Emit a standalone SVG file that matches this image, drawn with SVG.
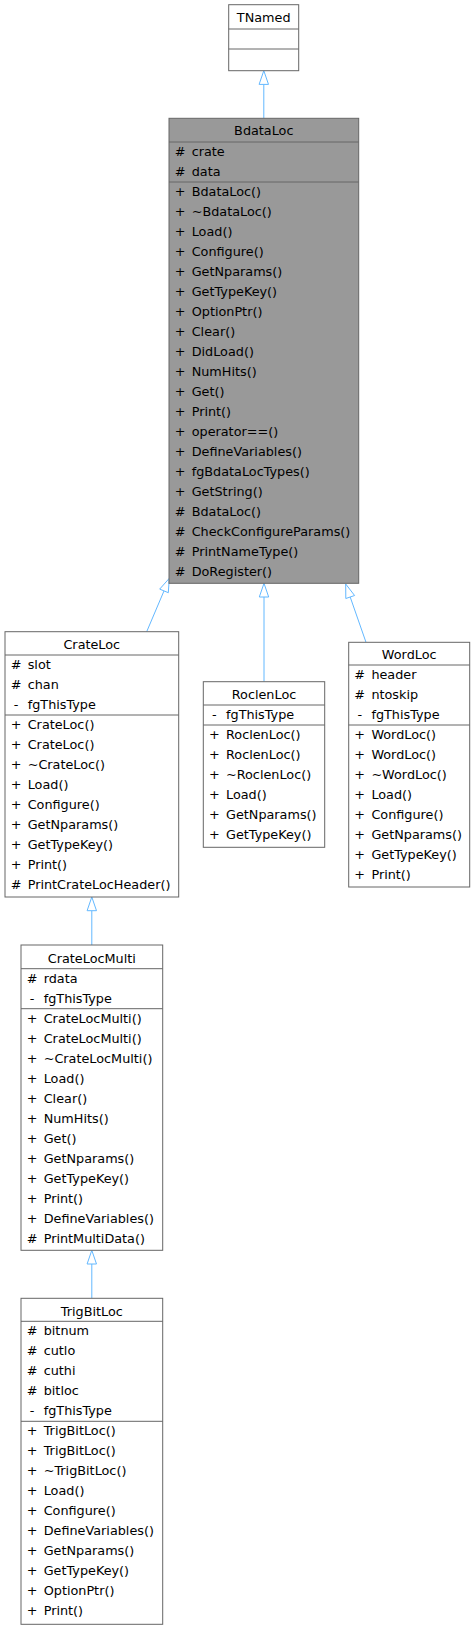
<svg xmlns="http://www.w3.org/2000/svg" width="475" height="1629" viewBox="0 0 475 1629">
<style>
.box{fill:#ffffff;stroke:#666666;stroke-width:1}
.main{fill:#999999;stroke:#666666;stroke-width:1}
.sep{stroke:#666666;stroke-width:1}
text{font-family:"DejaVu Sans","Liberation Sans",sans-serif;font-size:12.8px;fill:#000000}
.t{text-anchor:middle}
.s{text-anchor:middle}
.edge{stroke:#63B8FF;stroke-width:1;fill:none}
.head{fill:#ffffff;stroke:#63B8FF;stroke-width:1}
</style>
<rect width="475" height="1629" fill="#ffffff"/>
<g id="connectors">
<line class="edge" x1="263.8" y1="84.4" x2="263.8" y2="118.3"/>
<polygon class="head" points="263.8,70.7 259.1,84.4 268.5,84.4"/>
<line class="edge" x1="164" y1="590.9" x2="146.7" y2="631.7"/>
<polygon class="head" points="169.3,578.3 168.3,592.7 159.7,589.1"/>
<line class="edge" x1="264" y1="597" x2="264" y2="681.7"/>
<polygon class="head" points="264,583.3 259.3,597 268.7,597"/>
<line class="edge" x1="350.2" y1="597" x2="366" y2="642.3"/>
<polygon class="head" points="345.7,584 354.6,595.5 345.8,598.5"/>
<line class="edge" x1="91.8" y1="910.7" x2="91.8" y2="945"/>
<polygon class="head" points="91.8,897 87.1,910.7 96.5,910.7"/>
<line class="edge" x1="91.8" y1="1264" x2="91.8" y2="1298.3"/>
<polygon class="head" points="91.8,1250.3 87.1,1264 96.5,1264"/>
</g>
<g id="TNamed">
<rect class="box" x="228.7" y="4.7" width="70" height="66"/>
<line class="sep" x1="228.7" y1="29" x2="298.7" y2="29"/>
<line class="sep" x1="228.7" y1="49" x2="298.7" y2="49"/>
<text class="t" x="263.7" y="22">TNamed</text>
</g>
<g id="BdataLoc">
<rect class="main" x="169" y="118.3" width="189.7" height="465"/>
<line class="sep" x1="169" y1="142" x2="358.7" y2="142"/>
<line class="sep" x1="169" y1="182" x2="358.7" y2="182"/>
<text class="t" x="263.8" y="135.3">BdataLoc</text>
<text class="s" x="180" y="155.8">#</text><text x="191.7" y="155.8">crate</text>
<text class="s" x="180" y="175.8">#</text><text x="191.7" y="175.8">data</text>
<text class="s" x="180" y="195.8">+</text><text x="191.7" y="195.8">BdataLoc()</text>
<text class="s" x="180" y="215.8">+</text><text x="191.7" y="215.8">~BdataLoc()</text>
<text class="s" x="180" y="235.8">+</text><text x="191.7" y="235.8">Load()</text>
<text class="s" x="180" y="255.8">+</text><text x="191.7" y="255.8">Configure()</text>
<text class="s" x="180" y="275.8">+</text><text x="191.7" y="275.8">GetNparams()</text>
<text class="s" x="180" y="295.8">+</text><text x="191.7" y="295.8">GetTypeKey()</text>
<text class="s" x="180" y="315.8">+</text><text x="191.7" y="315.8">OptionPtr()</text>
<text class="s" x="180" y="335.8">+</text><text x="191.7" y="335.8">Clear()</text>
<text class="s" x="180" y="355.8">+</text><text x="191.7" y="355.8">DidLoad()</text>
<text class="s" x="180" y="375.8">+</text><text x="191.7" y="375.8">NumHits()</text>
<text class="s" x="180" y="395.8">+</text><text x="191.7" y="395.8">Get()</text>
<text class="s" x="180" y="415.8">+</text><text x="191.7" y="415.8">Print()</text>
<text class="s" x="180" y="435.8">+</text><text x="191.7" y="435.8">operator==()</text>
<text class="s" x="180" y="455.8">+</text><text x="191.7" y="455.8">DefineVariables()</text>
<text class="s" x="180" y="475.8">+</text><text x="191.7" y="475.8">fgBdataLocTypes()</text>
<text class="s" x="180" y="495.8">+</text><text x="191.7" y="495.8">GetString()</text>
<text class="s" x="180" y="515.8">#</text><text x="191.7" y="515.8">BdataLoc()</text>
<text class="s" x="180" y="535.8">#</text><text x="191.7" y="535.8">CheckConfigureParams()</text>
<text class="s" x="180" y="555.8">#</text><text x="191.7" y="555.8">PrintNameType()</text>
<text class="s" x="180" y="575.8">#</text><text x="191.7" y="575.8">DoRegister()</text>
</g>
<g id="CrateLoc">
<rect class="box" x="5" y="631.7" width="173.7" height="265.3"/>
<line class="sep" x1="5" y1="655" x2="178.7" y2="655"/>
<line class="sep" x1="5" y1="715" x2="178.7" y2="715"/>
<text class="t" x="91.8" y="649">CrateLoc</text>
<text class="s" x="16" y="668.8">#</text><text x="27.7" y="668.8">slot</text>
<text class="s" x="16" y="688.8">#</text><text x="27.7" y="688.8">chan</text>
<text class="s" x="16" y="708.8">-</text><text x="27.7" y="708.8">fgThisType</text>
<text class="s" x="16" y="728.8">+</text><text x="27.7" y="728.8">CrateLoc()</text>
<text class="s" x="16" y="748.8">+</text><text x="27.7" y="748.8">CrateLoc()</text>
<text class="s" x="16" y="768.8">+</text><text x="27.7" y="768.8">~CrateLoc()</text>
<text class="s" x="16" y="788.8">+</text><text x="27.7" y="788.8">Load()</text>
<text class="s" x="16" y="808.8">+</text><text x="27.7" y="808.8">Configure()</text>
<text class="s" x="16" y="828.8">+</text><text x="27.7" y="828.8">GetNparams()</text>
<text class="s" x="16" y="848.8">+</text><text x="27.7" y="848.8">GetTypeKey()</text>
<text class="s" x="16" y="868.8">+</text><text x="27.7" y="868.8">Print()</text>
<text class="s" x="16" y="888.8">#</text><text x="27.7" y="888.8">PrintCrateLocHeader()</text>
</g>
<g id="RoclenLoc">
<rect class="box" x="203.3" y="681.7" width="121.4" height="165.6"/>
<line class="sep" x1="203.3" y1="705" x2="324.7" y2="705"/>
<line class="sep" x1="203.3" y1="725" x2="324.7" y2="725"/>
<text class="t" x="264" y="698.7">RoclenLoc</text>
<text class="s" x="214.3" y="718.8">-</text><text x="226" y="718.8">fgThisType</text>
<text class="s" x="214.3" y="738.8">+</text><text x="226" y="738.8">RoclenLoc()</text>
<text class="s" x="214.3" y="758.8">+</text><text x="226" y="758.8">RoclenLoc()</text>
<text class="s" x="214.3" y="778.8">+</text><text x="226" y="778.8">~RoclenLoc()</text>
<text class="s" x="214.3" y="798.8">+</text><text x="226" y="798.8">Load()</text>
<text class="s" x="214.3" y="818.8">+</text><text x="226" y="818.8">GetNparams()</text>
<text class="s" x="214.3" y="838.8">+</text><text x="226" y="838.8">GetTypeKey()</text>
</g>
<g id="WordLoc">
<rect class="box" x="348.7" y="642.3" width="121" height="244.7"/>
<line class="sep" x1="348.7" y1="665" x2="469.7" y2="665"/>
<line class="sep" x1="348.7" y1="725" x2="469.7" y2="725"/>
<text class="t" x="409.2" y="659">WordLoc</text>
<text class="s" x="359.7" y="678.8">#</text><text x="371.4" y="678.8">header</text>
<text class="s" x="359.7" y="698.8">#</text><text x="371.4" y="698.8">ntoskip</text>
<text class="s" x="359.7" y="718.8">-</text><text x="371.4" y="718.8">fgThisType</text>
<text class="s" x="359.7" y="738.8">+</text><text x="371.4" y="738.8">WordLoc()</text>
<text class="s" x="359.7" y="758.8">+</text><text x="371.4" y="758.8">WordLoc()</text>
<text class="s" x="359.7" y="778.8">+</text><text x="371.4" y="778.8">~WordLoc()</text>
<text class="s" x="359.7" y="798.8">+</text><text x="371.4" y="798.8">Load()</text>
<text class="s" x="359.7" y="818.8">+</text><text x="371.4" y="818.8">Configure()</text>
<text class="s" x="359.7" y="838.8">+</text><text x="371.4" y="838.8">GetNparams()</text>
<text class="s" x="359.7" y="858.8">+</text><text x="371.4" y="858.8">GetTypeKey()</text>
<text class="s" x="359.7" y="878.8">+</text><text x="371.4" y="878.8">Print()</text>
</g>
<g id="CrateLocMulti">
<rect class="box" x="21" y="945" width="141.7" height="305.3"/>
<line class="sep" x1="21" y1="968.7" x2="162.7" y2="968.7"/>
<line class="sep" x1="21" y1="1008.7" x2="162.7" y2="1008.7"/>
<text class="t" x="91.8" y="962.6">CrateLocMulti</text>
<text class="s" x="32" y="982.5">#</text><text x="43.7" y="982.5">rdata</text>
<text class="s" x="32" y="1002.5">-</text><text x="43.7" y="1002.5">fgThisType</text>
<text class="s" x="32" y="1022.5">+</text><text x="43.7" y="1022.5">CrateLocMulti()</text>
<text class="s" x="32" y="1042.5">+</text><text x="43.7" y="1042.5">CrateLocMulti()</text>
<text class="s" x="32" y="1062.5">+</text><text x="43.7" y="1062.5">~CrateLocMulti()</text>
<text class="s" x="32" y="1082.5">+</text><text x="43.7" y="1082.5">Load()</text>
<text class="s" x="32" y="1102.5">+</text><text x="43.7" y="1102.5">Clear()</text>
<text class="s" x="32" y="1122.5">+</text><text x="43.7" y="1122.5">NumHits()</text>
<text class="s" x="32" y="1142.5">+</text><text x="43.7" y="1142.5">Get()</text>
<text class="s" x="32" y="1162.5">+</text><text x="43.7" y="1162.5">GetNparams()</text>
<text class="s" x="32" y="1182.5">+</text><text x="43.7" y="1182.5">GetTypeKey()</text>
<text class="s" x="32" y="1202.5">+</text><text x="43.7" y="1202.5">Print()</text>
<text class="s" x="32" y="1222.5">+</text><text x="43.7" y="1222.5">DefineVariables()</text>
<text class="s" x="32" y="1242.5">#</text><text x="43.7" y="1242.5">PrintMultiData()</text>
</g>
<g id="TrigBitLoc">
<rect class="box" x="21" y="1298.3" width="141.7" height="326"/>
<line class="sep" x1="21" y1="1321.3" x2="162.7" y2="1321.3"/>
<line class="sep" x1="21" y1="1421.3" x2="162.7" y2="1421.3"/>
<text class="t" x="91.8" y="1315.6">TrigBitLoc</text>
<text class="s" x="32" y="1335.1">#</text><text x="43.7" y="1335.1">bitnum</text>
<text class="s" x="32" y="1355.1">#</text><text x="43.7" y="1355.1">cutlo</text>
<text class="s" x="32" y="1375.1">#</text><text x="43.7" y="1375.1">cuthi</text>
<text class="s" x="32" y="1395.1">#</text><text x="43.7" y="1395.1">bitloc</text>
<text class="s" x="32" y="1415.1">-</text><text x="43.7" y="1415.1">fgThisType</text>
<text class="s" x="32" y="1435.1">+</text><text x="43.7" y="1435.1">TrigBitLoc()</text>
<text class="s" x="32" y="1455.1">+</text><text x="43.7" y="1455.1">TrigBitLoc()</text>
<text class="s" x="32" y="1475.1">+</text><text x="43.7" y="1475.1">~TrigBitLoc()</text>
<text class="s" x="32" y="1495.1">+</text><text x="43.7" y="1495.1">Load()</text>
<text class="s" x="32" y="1515.1">+</text><text x="43.7" y="1515.1">Configure()</text>
<text class="s" x="32" y="1535.1">+</text><text x="43.7" y="1535.1">DefineVariables()</text>
<text class="s" x="32" y="1555.1">+</text><text x="43.7" y="1555.1">GetNparams()</text>
<text class="s" x="32" y="1575.1">+</text><text x="43.7" y="1575.1">GetTypeKey()</text>
<text class="s" x="32" y="1595.1">+</text><text x="43.7" y="1595.1">OptionPtr()</text>
<text class="s" x="32" y="1615.1">+</text><text x="43.7" y="1615.1">Print()</text>
</g>
</svg>
